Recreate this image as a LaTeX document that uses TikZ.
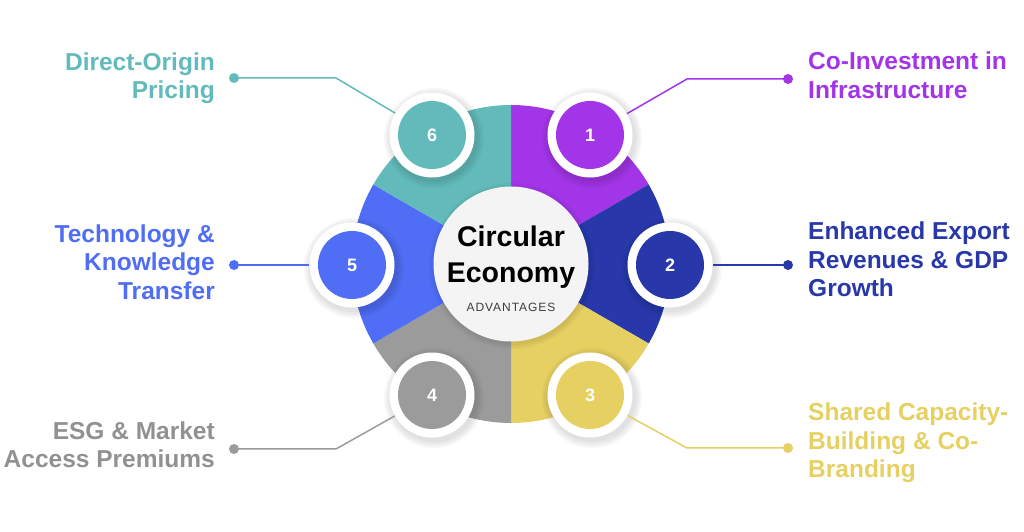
\documentclass[tikz,border=0pt]{standalone}
\usepackage{fontspec}
\setmainfont{Liberation Sans}
\usetikzlibrary{positioning, calc}
\definecolor{purp}{RGB}{163,53,232}
\definecolor{navy}{RGB}{40,56,170}
\definecolor{mustard}{RGB}{230,208,98}
\definecolor{midgray}{RGB}{155,155,155}
\definecolor{royal}{RGB}{80,110,245}
\definecolor{tealc}{RGB}{98,187,186}
\definecolor{corebg}{RGB}{244,244,244}
\definecolor{subgray}{RGB}{60,60,60}
\tikzset{
  ring/.style={circle, fill=white, minimum size=85pt, inner sep=0pt},
  badge/.style={circle, minimum size=68pt, inner sep=0pt, text=white, font=\fontsize{18}{18}\selectfont\bfseries},
  lbl/.style={font=\fontsize{24.5}{28.5}\selectfont\bfseries, inner sep=0pt},
  link/.style={line width=1.5pt},
  pin/.style={circle, inner sep=0pt, minimum size=10pt},
}

\begin{document}
\begin{tikzpicture}[x=1pt, y=1pt]
    \useasboundingbox (0,0) rectangle (1024,532);
    \coordinate (o) at (511,268);

    % Wheel sectors
    \foreach \a/\c in {30/purp, -30/navy, -90/mustard, -150/midgray, 150/royal, 90/tealc} {
        \fill[\c] (o) -- ++(\a:159pt) arc[start angle=\a, end angle=\a+60, radius=159pt] -- cycle;
    }

    % Core
    \foreach \s in {79,81,83} \fill[black, opacity=0.03] ($(o)+(1,-2)$) circle (\s pt);
    \node[circle, fill=corebg, minimum size=155pt, inner sep=0pt] (core) at (o) {};
    \node[font=\fontsize{28.5}{36}\selectfont\bfseries, align=center, inner sep=0pt] (title) at (511,275) {Circular\\Economy};
    \node[font=\fontsize{12}{12}\selectfont\addfontfeature{LetterSpace=8}, text=subgray, inner sep=0pt] (sub) at (511,225) {ADVANTAGES};

    % Numbered badges
    \foreach \i/\x/\y/\c in {1/590/397/purp, 2/670/267/navy, 3/590/137/mustard, 4/432/137/midgray, 5/352/267/royal, 6/432/397/tealc} {
        \foreach \s in {44,46,48,50} \fill[black, opacity=0.03] (\x+2,\y-3) circle (\s pt);
        \node[ring] (r\i) at (\x,\y) {};
        \node[badge, fill=\c] (n\i) at (r\i) {\i};
    }

    % Pins and leader lines
    \node[pin, fill=purp] (p1) at (788,453) {};
    \node[pin, fill=navy] (p2) at (788,267) {};
    \node[pin, fill=mustard] (p3) at (788,84) {};
    \node[pin, fill=midgray] (p4) at (234,83) {};
    \node[pin, fill=royal] (p5) at (234,267) {};
    \node[pin, fill=tealc] (p6) at (234,454) {};
    \coordinate (k1) at (687,453);
    \coordinate (k3) at (687,84);
    \coordinate (k4) at (336,83);
    \coordinate (k6) at (336,454);
    \draw[link, purp] (p1.center) -- (k1) -- (r1);
    \draw[link, navy] (p2.center) -- (r2);
    \draw[link, mustard] (p3.center) -- (k3) -- (r3);
    \draw[link, midgray] (p4.center) -- (k4) -- (r4);
    \draw[link, royal] (p5.center) -- (r5);
    \draw[link, tealc] (p6.center) -- (k6) -- (r6);

    % Labels
    \node[lbl, text=purp, anchor=west, align=left] (t1) at (808,456.5) {Co-Investment in\\Infrastructure};
    \node[lbl, text=navy, anchor=west, align=left] (t2) at (808,272.5) {Enhanced Export\\Revenues \& GDP\\Growth};
    \node[lbl, text=mustard, anchor=west, align=left] (t3) at (808,89) {Shared Capacity-\\Building \& Co-\\Branding};
    \node[lbl, text=midgray!110, anchor=east, align=right] (t4) at (215,87.5) {ESG \& Market\\Access Premiums};
    \node[lbl, text=royal, anchor=east, align=right] (t5) at (215,270) {Technology \&\\Knowledge\\Transfer};
    \node[lbl, text=tealc, anchor=east, align=right] (t6) at (215,454) {Direct-Origin\\Pricing};
\end{tikzpicture}
\end{document}
